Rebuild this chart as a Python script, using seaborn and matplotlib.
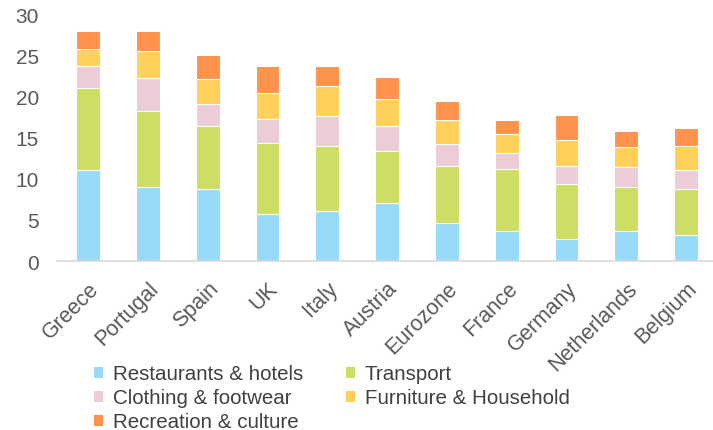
import matplotlib
matplotlib.use("Agg")
import matplotlib.pyplot as plt
import seaborn as sns
import numpy as np
from matplotlib.patches import Patch

countries = ["Greece", "Portugal", "Spain", "UK", "Italy", "Austria",
             "Eurozone", "France", "Germany", "Netherlands", "Belgium"]
restaurants = [11.0, 9.05, 8.7, 5.7, 6.1, 7.05, 4.67, 3.7, 2.64, 3.7, 3.16]
transport = [10.0, 9.15, 7.7, 8.7, 7.9, 6.35, 6.93, 7.54, 6.76, 5.35, 5.54]
clothing = [2.7, 4.0, 2.7, 2.9, 3.6, 2.95, 2.6, 1.83, 2.2, 2.35, 2.3]
furniture = [2.0, 3.3, 3.0, 3.1, 3.7, 3.35, 2.9, 2.38, 3.1, 2.4, 2.95]
recreation = [2.2, 2.4, 2.9, 3.3, 2.4, 2.7, 2.4, 1.65, 3.0, 2.0, 2.25]

series = [
    ("Restaurants & hotels", restaurants, "#97DBF8"),
    ("Transport", transport, "#CEDD63"),
    ("Clothing & footwear", clothing, "#ECCCD6"),
    ("Furniture & Household", furniture, "#FFD05A"),
    ("Recreation & culture", recreation, "#FF924D"),
]

sns.set_theme(style="white")
plt.rcParams["font.family"] = ["Liberation Sans", "DejaVu Sans"]

fig = plt.figure(figsize=(7.13, 4.31), dpi=100)
ax = fig.add_axes([0.08, 0.392, 0.92, 0.573])

bottom = np.zeros(len(countries))
for name, vals, col in series:
    sns.barplot(x=countries, y=vals, bottom=bottom, color=col, width=0.4,
                saturation=1, edgecolor="white", linewidth=0.8, ax=ax,
                order=countries)
    bottom = bottom + np.array(vals)

ax.set_ylim(0, 30)
ax.set_xlim(-0.52, 10.45)
ax.set_yticks([0, 5, 10, 15, 20, 25, 30])
ax.tick_params(axis="y", labelsize=15, labelcolor="#595959", length=0, pad=13)
ax.tick_params(axis="x", labelsize=15.5, labelcolor="#595959", length=0, pad=12)
ax.set_xticks(range(len(countries)))
ax.set_xticklabels(countries, rotation=45, ha="right", rotation_mode="anchor")
ax.set_xlabel("")
ax.set_ylabel("")
for s in ["left", "right", "top"]:
    ax.spines[s].set_visible(False)
ax.spines["bottom"].set_color("#D9D9D9")
ax.spines["bottom"].set_linewidth(1.2)

handles = [Patch(facecolor=c, edgecolor="none") for _, _, c in series]
labels = [n for n, _, _ in series]
order = [0, 2, 4, 1, 3]
fig.legend([handles[i] for i in order], [labels[i] for i in order],
           loc="upper left", bbox_to_anchor=(0.132, 0.152), ncol=2,
           frameon=False, fontsize=14.8, labelcolor="#404040",
           handlelength=0.45, handleheight=0.45, handletextpad=0.45,
           columnspacing=2.1, labelspacing=0.24, borderpad=0, borderaxespad=0)

fig.savefig("out.png", dpi=100)
